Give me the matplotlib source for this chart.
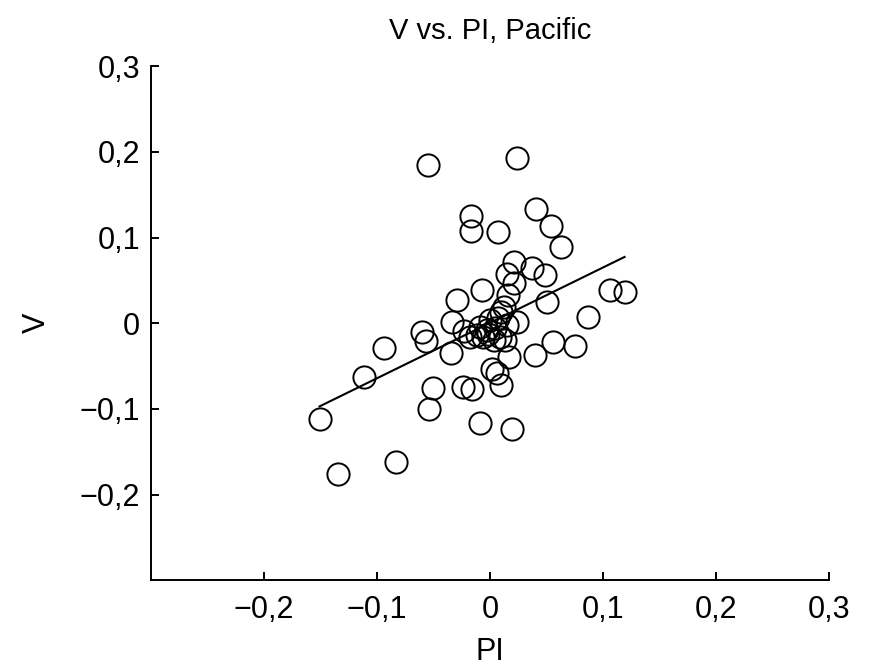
import numpy as np
import matplotlib
matplotlib.use('Agg')
import matplotlib.pyplot as plt

# PI index vs V, Pacific
pi_vals = [-0.055, 0.024, -0.017, -0.017, 0.007, 0.041, 0.054, 0.063, 0.021, 0.037,
           0.049, 0.015, 0.021, 0.016, -0.007, -0.029, 0.050, 0.106, 0.119, 0.087,
           0.024, -0.034, -0.060, -0.057, -0.094, -0.112, -0.151, -0.135, -0.083, -0.051,
           -0.054, -0.024, -0.016, -0.009, 0.019, 0.002, 0.006, 0.010, 0.017, 0.040,
           0.056, 0.075, -0.035, -0.023, -0.018, -0.012, 0.000, 0.007, -0.003, 0.004,
           0.009, 0.013, 0.003, -0.006, 0.012, 0.015, -0.009, -0.002, 0.010]
v_vals = [0.185, 0.193, 0.125, 0.108, 0.107, 0.133, 0.114, 0.089, 0.072, 0.065,
          0.056, 0.058, 0.047, 0.033, 0.039, 0.027, 0.025, 0.039, 0.036, 0.007,
          0.002, 0.002, -0.010, -0.021, -0.029, -0.063, -0.112, -0.176, -0.162, -0.076,
          -0.100, -0.074, -0.077, -0.116, -0.123, -0.053, -0.058, -0.072, -0.039, -0.037,
          -0.022, -0.027, -0.035, -0.009, -0.016, -0.014, 0.004, 0.006, -0.008, -0.006,
          -0.016, -0.020, -0.020, -0.016, 0.019, -0.002, -0.004, -0.012, 0.013]

ticks = [-0.2, -0.1, 0, 0.1, 0.2, 0.3]
tick_labels = ['\u22120,2', '\u22120,1', '0', '0,1', '0,2', '0,3']

plt.rcParams['font.family'] = ['Liberation Sans', 'DejaVu Sans']

x = np.array(pi_vals)
y = np.array(v_vals)
slope, icept = np.polyfit(x, y, 1)           # least squares line
xl = np.array([x.min(), x.max()])

fig = plt.figure(figsize=(8.69, 6.70), dpi=100)
ax = fig.add_axes([0.174, 0.134, 0.780, 0.767])
ax.plot(x, y, 'o', mfc='none', mec='black', ms=16, mew=1.4)
ax.plot(xl, slope*xl + icept, color='black', lw=1.5)

ax.set_xlim(-0.3, 0.3)
ax.set_ylim(-0.3, 0.3)
ax.set_xticks(ticks)
ax.set_xticklabels(tick_labels)
ax.set_yticks(ticks)
ax.set_yticklabels(tick_labels)
ax.spines['top'].set_visible(False)
ax.spines['right'].set_visible(False)
for s in ('left', 'bottom'):
    ax.spines[s].set_linewidth(1.4)
ax.tick_params(direction='in', length=6, width=1.4, labelsize=22)
ax.tick_params(axis='x', pad=11)
ax.tick_params(axis='y', pad=8)
ax.set_xlabel('PI', fontsize=22, labelpad=8)
ax.set_ylabel('V', fontsize=22, labelpad=20)
ax.set_title('V vs. PI, Pacific', fontsize=21, pad=20)

fig.savefig('out.png', dpi=100)
